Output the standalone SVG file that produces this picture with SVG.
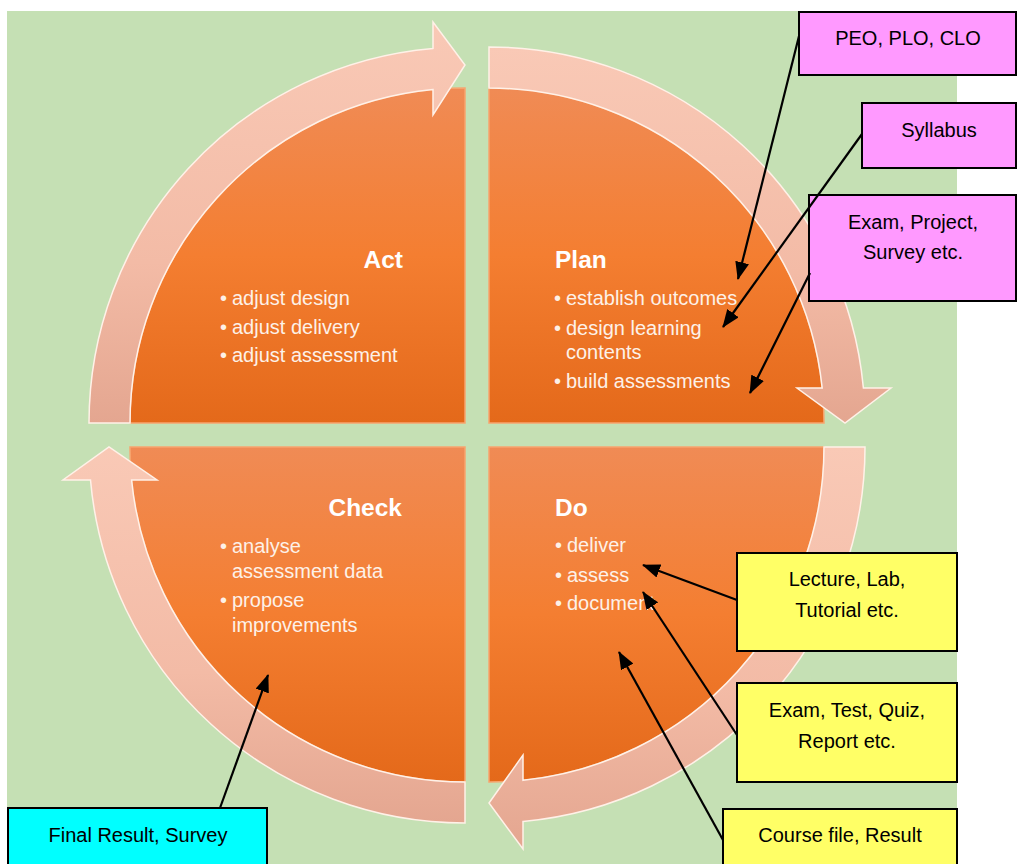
<svg xmlns="http://www.w3.org/2000/svg" width="1017" height="864" viewBox="0 0 1017 864">
<defs>
<linearGradient id="og" x1="0" y1="0" x2="0" y2="1">
<stop offset="0" stop-color="#f08b55"/>
<stop offset="0.5" stop-color="#f47e31"/>
<stop offset="1" stop-color="#e4691a"/>
</linearGradient>
<linearGradient id="bg" x1="0" y1="0" x2="0" y2="1">
<stop offset="0" stop-color="#f9c9b6"/>
<stop offset="0.6" stop-color="#f3bba6"/>
<stop offset="1" stop-color="#e4a690"/>
</linearGradient>
<marker id="ah" markerWidth="18" markerHeight="14" refX="17" refY="7" orient="auto" markerUnits="userSpaceOnUse">
<path d="M0,0 L18,7 L0,14 z" fill="#000"/>
</marker>
</defs>
<style>
.quad{fill:url(#og);stroke:#f7a46e;stroke-width:1.5}
.band{fill:url(#bg);stroke:#fff1e8;stroke-width:1.5}
.ttl{font-family:"Liberation Sans",Arial,sans-serif;font-weight:bold;font-size:24.5px;fill:#ffffff}
.bul{font-family:"Liberation Sans",Arial,sans-serif;font-size:20px;fill:#fdf1e8}
.box{stroke:#000;stroke-width:2}
.pink{fill:#ff99ff}
.yel{fill:#ffff66}
.cyan{fill:#00ffff}
.lbl{font-family:"Liberation Sans",Arial,sans-serif;font-size:20px;fill:#000;text-anchor:middle}
.conn line{stroke:#000;stroke-width:2.2;marker-end:url(#ah)}
</style>
<rect x="7" y="11" width="950" height="853" fill="#c5e0b4"/>

<g id="act">
<path class="quad" d="M465 423 L130 423 A335 335 0 0 1 465 88 Z"/>
<path class="band" d="M89 423 A376 376 0 0 1 433 48.4 L433 22 L465 65 L433 115 L433 89.5 A335 335 0 0 0 130 423 Z"/>
<text class="ttl" x="403" y="268" text-anchor="end">Act</text>
<text class="bul" x="220" y="305">•</text><text class="bul" x="232" y="305">adjust design</text>
<text class="bul" x="220" y="334">•</text><text class="bul" x="232" y="334">adjust delivery</text>
<text class="bul" x="220" y="362">•</text><text class="bul" x="232" y="362">adjust assessment</text>
</g>

<g id="plan">
<path class="quad" d="M489 423 L489 88 A335 335 0 0 1 824 423 Z"/>
<path class="band" d="M489 47 A376 376 0 0 1 863.4 388 L891 388 L845 423 L797 388 L822.2 388 A335 335 0 0 0 489 88 Z"/>
<text class="ttl" x="555" y="268">Plan</text>
<text class="bul" x="554" y="305">•</text><text class="bul" x="566" y="305">establish outcomes</text>
<text class="bul" x="554" y="335">•</text><text class="bul" x="566" y="335">design learning</text>
<text class="bul" x="566" y="359">contents</text>
<text class="bul" x="554" y="388">•</text><text class="bul" x="566" y="388">build assessments</text>
</g>

<g id="do">
<path class="quad" d="M489 447 L824 447 A335 335 0 0 1 489 782 Z"/>
<path class="band" d="M865 447 A376 376 0 0 1 523 821.5 L523 849 L489 803 L523 755 L523 780.3 A335 335 0 0 0 824 447 Z"/>
<text class="ttl" x="555" y="516">Do</text>
<text class="bul" x="555" y="552">•</text><text class="bul" x="567" y="552">deliver</text>
<text class="bul" x="555" y="582">•</text><text class="bul" x="567" y="582">assess</text>
<text class="bul" x="555" y="610">•</text><text class="bul" x="567" y="610">document</text>
</g>

<g id="check">
<path class="quad" d="M465 447 L465 782 A335 335 0 0 1 130 447 Z"/>
<path class="band" d="M465 823 A376 376 0 0 1 90.5 480 L63 480 L109 447 L157 480 L131.6 480 A335 335 0 0 0 465 782 Z"/>
<text class="ttl" x="402" y="516" text-anchor="end">Check</text>
<text class="bul" x="220" y="553">•</text><text class="bul" x="232" y="553">analyse</text>
<text class="bul" x="232" y="578">assessment data</text>
<text class="bul" x="220" y="607">•</text><text class="bul" x="232" y="607">propose</text>
<text class="bul" x="232" y="632">improvements</text>
</g>

<g id="peo">
<rect class="box pink" x="799" y="12" width="217" height="63"/>
<text class="lbl" x="908" y="45">PEO, PLO, CLO</text>
</g>
<g id="syllabus">
<rect class="box pink" x="862" y="103" width="154" height="65"/>
<text class="lbl" x="939" y="137">Syllabus</text>
</g>
<g id="exam-project">
<rect class="box pink" x="809" y="195" width="207" height="106"/>
<text class="lbl" x="913" y="229">Exam, Project,</text>
<text class="lbl" x="913" y="259">Survey etc.</text>
</g>
<g id="lecture">
<rect class="box yel" x="737" y="553" width="220" height="98"/>
<text class="lbl" x="847" y="586">Lecture, Lab,</text>
<text class="lbl" x="847" y="617">Tutorial etc.</text>
</g>
<g id="exam-test">
<rect class="box yel" x="737" y="683" width="220" height="99"/>
<text class="lbl" x="847" y="717">Exam, Test, Quiz,</text>
<text class="lbl" x="847" y="748">Report etc.</text>
</g>
<g id="course">
<rect class="box yel" x="723" y="809" width="234" height="60"/>
<text class="lbl" x="840" y="842">Course file, Result</text>
</g>
<g id="final">
<rect class="box cyan" x="8" y="808" width="259" height="61"/>
<text class="lbl" x="138" y="842">Final Result, Survey</text>
</g>

<g id="connectors" class="conn">
<line x1="799" y1="36" x2="738" y2="279"/>
<line x1="862" y1="134" x2="723" y2="327"/>
<line x1="810" y1="273" x2="750" y2="393"/>
<line x1="737" y1="600" x2="643" y2="565"/>
<line x1="737" y1="735" x2="643" y2="592"/>
<line x1="723" y1="840" x2="619" y2="652"/>
<line x1="220" y1="808" x2="268" y2="675"/>
</g>
</svg>
